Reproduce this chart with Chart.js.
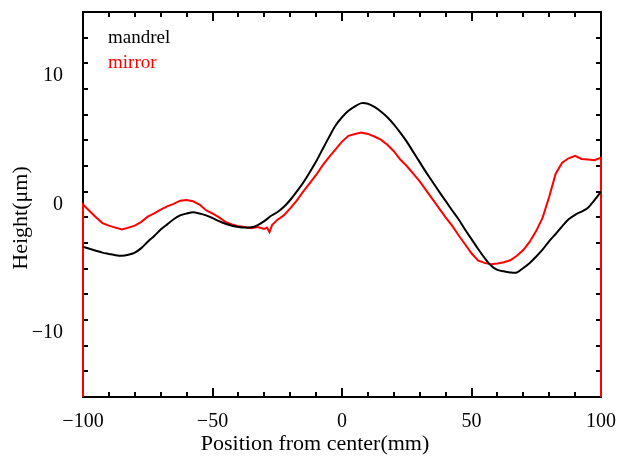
<!DOCTYPE html>
<html>
<head>
<meta charset="utf-8">
<script src="https://cdn.jsdelivr.net/npm/chart.js@4.4.0/dist/chart.umd.min.js"></script>
<style>
  body { margin: 0; background: #fff; }
  canvas { display: block; }
</style>
</head>
<body>
<canvas id="profileChart" width="618" height="456"></canvas>
<script>
// mandrel profile
let mandrelX = [-100, -97.5, -95, -92.5, -90, -87.5, -85, -82.5, -80, -77.5, -75, -72.5, -70, -67.5, -65, -62.5, -60, -57.5, -55, -52.5, -50,
  -47.5, -45, -42.5, -40, -37.5, -35, -32.5, -30, -27.5, -25, -22.5, -20, -17.5, -15, -12.5, -10, -7.5, -5, -2.5, 0,
  2.5, 5, 7.5, 10, 12.5, 15, 17.5, 20, 22.5, 25, 27.5, 30, 32.5, 35, 37.5, 40, 42.5, 45, 47.5, 50,
  52.5, 55, 57.5, 60, 62.5, 65, 67.5, 70, 72.5, 75, 77.5, 80, 82.5, 85, 87.5, 90, 92.5, 95, 97.5, 100];
let mandrelY = [-3.3, -3.45, -3.6, -3.75, -3.85, -3.95, -4.0, -3.92, -3.75, -3.4, -2.9, -2.45, -1.95, -1.55, -1.15, -0.85, -0.7, -0.6, -0.7, -0.85, -1.05,
  -1.3, -1.5, -1.65, -1.75, -1.8, -1.78, -1.6, -1.3, -0.9, -0.6, -0.2, 0.35, 1.0, 1.7, 2.5, 3.35, 4.3, 5.25, 6.15, 6.8,
  7.3, 7.65, 7.9, 7.85, 7.6, 7.25, 6.8, 6.25, 5.6, 4.9, 4.1, 3.3, 2.5, 1.75, 1.0, 0.28, -0.45, -1.15, -1.95, -2.7,
  -3.45, -4.15, -4.75, -5.1, -5.2, -5.3, -5.3, -4.95, -4.55, -4.05, -3.5, -2.85, -2.3, -1.7, -1.15, -0.8, -0.55, -0.25, 0.35, 1.0];

// mirror profile, with the drop to the bottom at both ends
let mirrorX = [-100, -100, -97.5, -95, -92.5, -90, -87.5, -85, -82.5, -80, -77.5, -75, -72.5, -70, -67.5, -65, -62.5, -60, -57.5, -55, -52.5, -50,
  -47.5, -45, -42.5, -40, -37.5, -35, -32.5, -30, -29, -28, -27, -25, -22.5, -20, -17.5, -15, -12.5, -10, -7.5, -5, -2.5, 0,
  2.5, 5, 7.5, 10, 12.5, 15, 17.5, 20, 22.5, 25, 27.5, 30, 32.5, 35, 37.5, 40, 42.5, 45, 47.5, 50,
  52.5, 55, 57.5, 60, 62.5, 65, 67.5, 70, 72.5, 75, 77.5, 80, 82.5, 85, 87.5, 90, 92.5, 95, 97.5, 100, 100];
let mirrorY = [-15, 0, -0.5, -1.0, -1.45, -1.65, -1.8, -1.95, -1.8, -1.65, -1.35, -0.95, -0.7, -0.4, -0.15, 0.05, 0.3, 0.35, 0.25, 0.0, -0.45, -0.7,
  -1.0, -1.35, -1.55, -1.7, -1.75, -1.85, -1.75, -1.9, -1.8, -2.15, -1.6, -1.2, -0.85, -0.3, 0.3, 1.0, 1.65, 2.3, 3.05, 3.7, 4.3, 4.9,
  5.35, 5.5, 5.6, 5.5, 5.3, 5.05, 4.65, 4.15, 3.5, 3.0, 2.4, 1.8, 1.1, 0.4, -0.3, -1.0, -1.65, -2.4, -3.1, -3.8,
  -4.35, -4.55, -4.65, -4.6, -4.5, -4.35, -4.0, -3.55, -2.9, -2.05, -1.0, 0.6, 2.4, 3.25, 3.6, 3.8, 3.55, 3.5, 3.45, 3.65, -15];

let xTicks = [-100, -50, 0, 50, 100];
let yTicks = [-10, 0, 10];
let xMinor = 10;
let yMinor = 2;

function toPoints(xs, ys) {
  let pts = [];
  for (let i = 0; i < xs.length; i++) {
    pts.push({x: xs[i], y: ys[i]});
  }
  return pts;
}

function minusSign(v) {
  return String(v).replace('-', '\u2212');
}

const serif = '"Liberation Serif", "DejaVu Serif", serif';

// frame, inward ticks, legend text and axis titles
const frame = {
  id: 'frame',
  beforeDatasetsDraw(chart) {
    let c = chart.ctx;
    let a = chart.chartArea;
    let sx = chart.scales.x;
    let sy = chart.scales.y;
    c.save();
    c.strokeStyle = '#000';
    c.lineWidth = 2;
    c.strokeRect(a.left, a.top, a.right - a.left, a.bottom - a.top);
    c.beginPath();
    for (let v = sx.min; v <= sx.max; v += xMinor) {
      let px = Math.round(sx.getPixelForValue(v));
      let len = (v % 50 === 0) ? 9 : 5;
      c.moveTo(px, a.bottom); c.lineTo(px, a.bottom - len);
      c.moveTo(px, a.top); c.lineTo(px, a.top + len);
    }
    for (let v = sy.min; v <= sy.max; v += yMinor) {
      let py = Math.round(sy.getPixelForValue(v));
      let len = (v % 10 === 0) ? 10 : 5;
      c.moveTo(a.left, py); c.lineTo(a.left + len, py);
      c.moveTo(a.right, py); c.lineTo(a.right - len, py);
    }
    c.stroke();
    c.restore();
  },
  afterDraw(chart) {
    let c = chart.ctx;
    let a = chart.chartArea;
    c.save();
    c.font = '19px ' + serif;
    c.textAlign = 'left';
    c.textBaseline = 'alphabetic';
    chart.data.datasets.forEach((ds, i) => {
      c.fillStyle = ds.borderColor;
      c.fillText(ds.label, a.left + 25, 43 + i * 25);
    });
    c.fillStyle = '#000';
    c.font = '22px ' + serif;
    c.textAlign = 'center';
    c.fillText('Position from center(mm)', 315, 450);
    c.translate(27, 218);
    c.rotate(-Math.PI / 2);
    c.fillText('Height(\u03bcm)', 0, 0);
    c.restore();
  }
};

let config = {
  type: 'line',
  data: {
    datasets: [{
      label: 'mandrel',
      data: toPoints(mandrelX, mandrelY),
      borderColor: '#000000',
      borderWidth: 2,
      pointRadius: 0,
      tension: 0.3
    }, {
      label: 'mirror',
      data: toPoints(mirrorX, mirrorY),
      borderColor: '#ff0000',
      borderWidth: 2,
      pointRadius: 0,
      tension: 0
    }]
  },
  options: {
    responsive: false,
    animation: false,
    layout: { padding: { top: 12, right: 17, left: 0, bottom: 0 } },
    plugins: { legend: { display: false }, tooltip: { enabled: false } },
    scales: {
      x: {
        type: 'linear',
        bounds: 'data',
        afterFit: (s) => { s.height = 59; s.paddingLeft = 0; s.paddingRight = 0; },
        afterBuildTicks: (s) => { s.ticks = xTicks.map(v => ({value: v})); },
        grid: { display: false, drawTicks: false },
        border: { display: false },
        ticks: {
          color: '#000',
          padding: 13,
          maxRotation: 0,
          font: { family: serif, size: 20 },
          callback: minusSign
        }
      },
      y: {
        min: -15,
        max: 15,
        afterFit: (s) => { s.width = 83; s.paddingTop = 0; s.paddingBottom = 0; },
        afterBuildTicks: (s) => { s.ticks = yTicks.map(v => ({value: v})); },
        grid: { display: false, drawTicks: false },
        border: { display: false },
        ticks: {
          color: '#000',
          padding: 20,
          font: { family: serif, size: 20 },
          callback: minusSign
        }
      }
    }
  },
  plugins: [frame]
};

var ctx = document.getElementById('profileChart').getContext('2d');
var myChart = new Chart(ctx, config);
</script>
</body>
</html>
